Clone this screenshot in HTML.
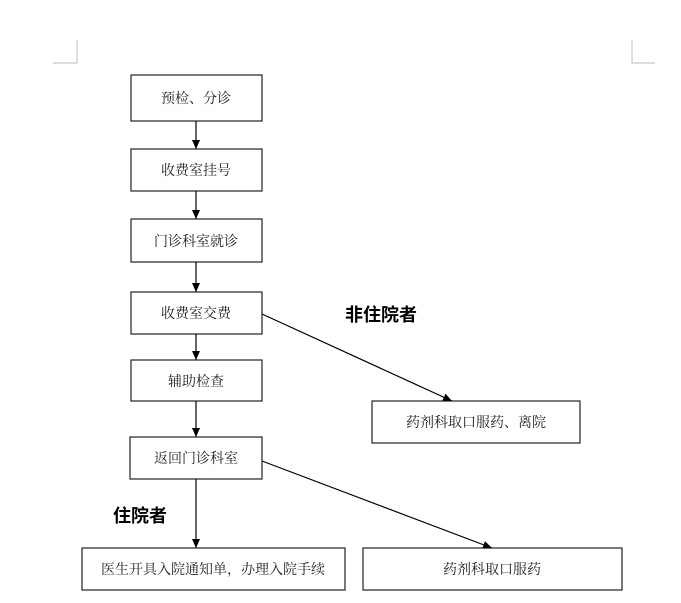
<!DOCTYPE html>
<html><head><meta charset="utf-8"><style>
html,body{margin:0;padding:0;background:#fff;}
svg text{font-family:"Liberation Serif","Noto Serif CJK SC",serif;font-size:14px;fill:#222;}
</style></head><body>
<svg width="681" height="598" xmlns="http://www.w3.org/2000/svg">
<defs><marker id="a" markerWidth="10" markerHeight="10" refX="9" refY="5" orient="auto" markerUnits="userSpaceOnUse"><path d="M0,1 L9,5 L0,9 z" fill="#000"/></marker></defs>
<g stroke="#bbb" fill="none" stroke-width="1"><path d="M77,40 V63 H53"/><path d="M632,40 V63 H655"/></g>
<g stroke="#222" fill="#fff" stroke-width="1.2">
<rect x="131" y="75" width="131" height="46"/>
<rect x="131" y="149" width="131" height="42"/>
<rect x="131" y="219" width="131" height="43"/>
<rect x="131" y="292" width="131" height="42"/>
<rect x="131" y="360" width="131" height="41"/>
<rect x="130" y="437" width="132" height="42"/>
<rect x="372" y="401" width="208" height="42"/>
<rect x="82" y="548" width="263" height="42"/>
<rect x="363" y="548" width="259" height="42"/>
</g>
<g stroke="#000" stroke-width="1.2" marker-end="url(#a)">
<line x1="196" y1="121" x2="196" y2="149"/>
<line x1="196" y1="191" x2="196" y2="219"/>
<line x1="196" y1="262" x2="196" y2="292"/>
<line x1="196" y1="334" x2="196" y2="360"/>
<line x1="196" y1="401" x2="196" y2="437"/>
<line x1="196" y1="479" x2="196" y2="548"/>
<line x1="262" y1="314" x2="452" y2="401"/>
<line x1="262" y1="461" x2="492" y2="548"/>
</g>
<g text-anchor="middle">
<text x="196" y="103">预检、分诊</text>
<text x="196" y="175">收费室挂号</text>
<text x="196" y="246">门诊科室就诊</text>
<text x="196" y="318">收费室交费</text>
<text x="196" y="386">辅助检查</text>
<text x="196" y="463">返回门诊科室</text>
<text x="476" y="427">药剂科取口服药、离院</text>
<text x="213" y="574">医生开具入院通知单，办理入院手续</text>
<text x="492" y="574">药剂科取口服药</text>
</g>
<text x="345" y="321" style="font-family:'Liberation Sans','Noto Sans CJK SC',sans-serif;font-size:18px;font-weight:bold;fill:#000">非住院者</text>
<text x="113" y="522" style="font-family:'Liberation Sans','Noto Sans CJK SC',sans-serif;font-size:18px;font-weight:bold;fill:#000">住院者</text>
</svg>
</body></html>
